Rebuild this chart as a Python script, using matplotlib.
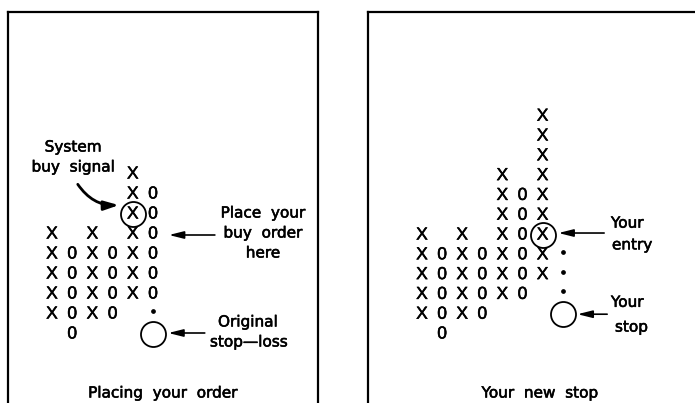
import matplotlib.pyplot as plt
import matplotlib.patheffects as pe

plt.rcParams['font.family'] = ['DejaVu Sans']
plt.rcParams['font.size'] = 11

# point & figure columns: symbol, lowest box, highest box
left_syms = ['X', '0', 'X', '0', 'X', '0']
left_lo = [1, 0, 1, 1, 2, 2]
left_hi = [5, 4, 5, 4, 8, 7]
left_signal = (4, 6)
left_dots = [(5, 1)]
left_stop = (5, 0)

right_syms = ['X', '0', 'X', '0', 'X', '0', 'X']
right_lo = [1, 0, 1, 1, 2, 2, 3]
right_hi = [5, 4, 5, 4, 8, 7, 11]
right_entry = (6, 5)
right_dots = [(7, 2), (7, 3), (7, 4)]
right_stop = (7, 1)

W, H = 695, 403
fig = plt.figure(figsize=(W / 100, H / 100), dpi=100)
thick = [pe.withStroke(linewidth=0.4, foreground='black')]


def panel(x0, x1, col0, dx, row0, dy, right_spine):
    ax = fig.add_axes([x0 / W, 0, (x1 - x0) / W, (H - 12) / H])
    ax.set_xlim((x0 - col0) / dx, (x1 - col0) / dx)
    ax.set_ylim((row0 - H) / dy, (row0 - 12) / dy)
    ax.set_xticks([])
    ax.set_yticks([])
    ax.spines['bottom'].set_visible(False)
    ax.spines['right'].set_visible(right_spine)
    for s in ax.spines.values():
        s.set_linewidth(1.6)
    return ax


def label(ax, x, y, s, ha='center'):
    ax.text(x, y, s, ha=ha, va='center', path_effects=thick)


def draw_columns(ax, syms, lo, hi, dots):
    for i, (s, a, b) in enumerate(zip(syms, lo, hi)):
        for r in range(a, b + 1):
            ax.text(i, r, s, ha='center', va='center', fontsize=12.5,
                    family='Liberation Sans', path_effects=thick)
    for c, r in dots:
        ax.plot(c, r + 0.15, marker='o', ms=2.4, color='black')


def circle(ax, c, r):
    ax.plot(c, r, marker='o', ms=18, mfc='none', mec='black', mew=1.3)


arrow = dict(arrowstyle='-|>,head_length=0.8,head_width=0.2', color='black', lw=1.2)

# left panel
ax1 = panel(8, 318, 52, 20.2, 334, 20, True)
draw_columns(ax1, left_syms, left_lo, left_hi, left_dots)
circle(ax1, *left_signal)
circle(ax1, *left_stop)
label(ax1, 1.05, 9.35, 'System')
label(ax1, 1.05, 8.35, 'buy  signal')
ax1.annotate('', xy=(3.45, 6.45), xytext=(1.2, 7.6),
             arrowprops=dict(arrowstyle='-|>,head_length=0.8,head_width=0.25',
                             color='black', lw=2, connectionstyle='arc3,rad=0.3'))
label(ax1, 10.45, 6.05, 'Place  your')
label(ax1, 10.45, 5.05, 'buy  order')
label(ax1, 10.45, 4.05, 'here')
ax1.annotate('', xy=(5.65, 4.95), xytext=(8.2, 4.95), arrowprops=arrow)
label(ax1, 9.7, 0.6, 'Original')
label(ax1, 9.75, -0.4, 'stop\u2014loss')
ax1.annotate('', xy=(5.62, 0.05), xytext=(7.7, 0.05), arrowprops=arrow)
label(ax1, 5.5, -2.95, 'Placing  your  order')

# right panel
ax2 = panel(368, 700, 422, 20.1, 334, 19.8, False)
draw_columns(ax2, right_syms, right_lo, right_hi, right_dots)
circle(ax2, *right_entry)
circle(ax2, *right_stop)
label(ax2, 9.4, 5.6, 'Your', ha='left')
label(ax2, 9.45, 4.5, 'entry', ha='left')
ax2.annotate('', xy=(6.65, 5.1), xytext=(9.2, 5.1), arrowprops=arrow)
label(ax2, 9.4, 1.6, 'Your', ha='left')
label(ax2, 9.6, 0.35, 'stop', ha='left')
ax2.annotate('', xy=(7.6, 1.0), xytext=(9.35, 1.0), arrowprops=arrow)
label(ax2, 5.87, -2.98, 'Your  new  stop')

fig.savefig('out.png', dpi=100)
